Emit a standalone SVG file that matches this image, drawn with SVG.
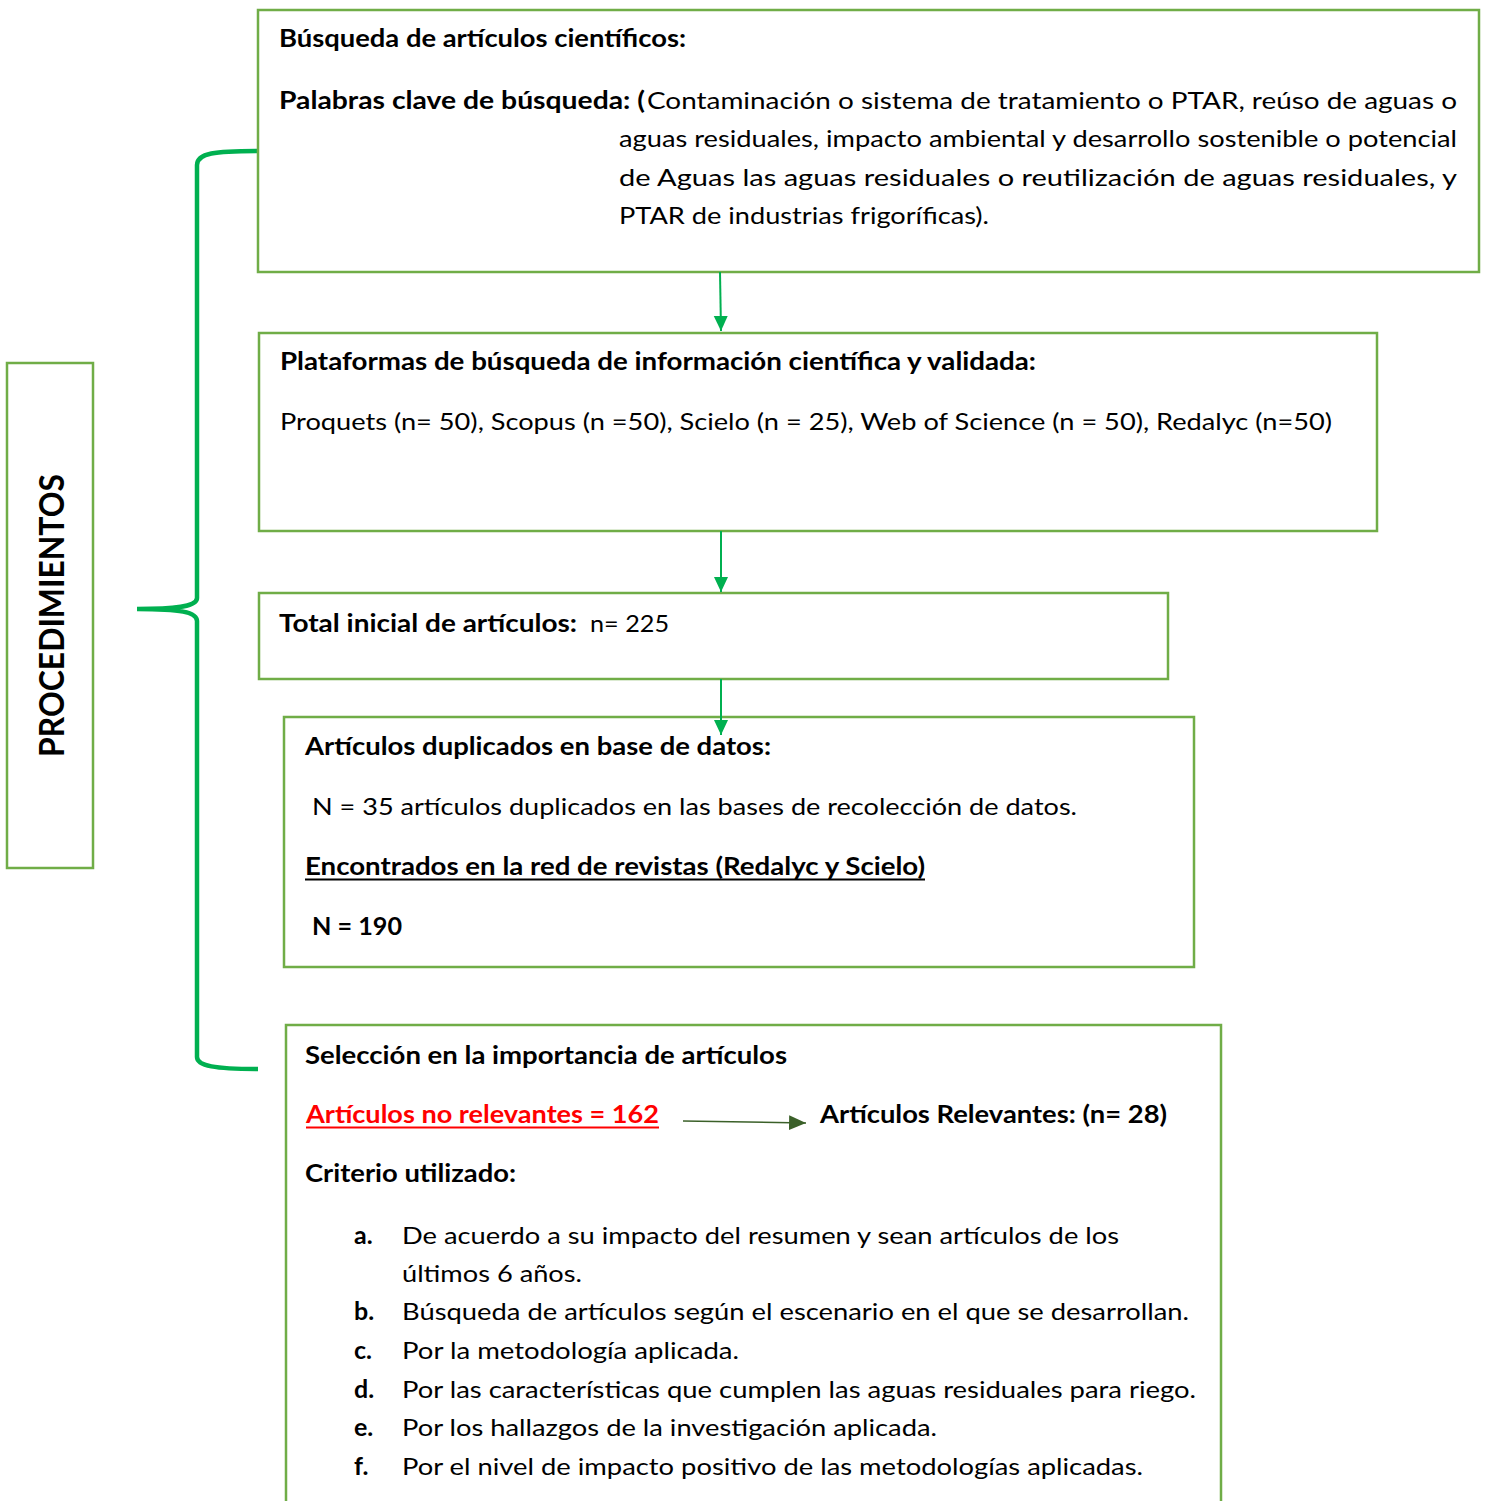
<svg xmlns="http://www.w3.org/2000/svg" width="1488" height="1501" viewBox="0 0 1488 1501">
<style>
.box{fill:#fff;stroke:#70AD47;stroke-width:2.5}
.t{font-family:Lato,"Open Sans","Liberation Sans",sans-serif;font-size:24px;fill:#000}
.b{font-weight:bold}
.red{fill:#FF0000}
.lbl{font-size:25px}
.conn{stroke:#00B050;stroke-width:2;fill:none}
</style>
<defs>
<marker id="ag" markerUnits="userSpaceOnUse" markerWidth="16" markerHeight="16" refX="15" refY="7" orient="auto" viewBox="0 0 16 14">
<path d="M0,0 L15,7 L0,14 Z" fill="#00B050"/>
</marker>
<marker id="ad" markerUnits="userSpaceOnUse" markerWidth="18" markerHeight="16" refX="16" refY="7" orient="auto" viewBox="0 0 17 14">
<path d="M0,0 L16,7 L0,14 Z" fill="#3B6029"/>
</marker>
</defs>

<g id="brace">
<path d="M258,151 C215,151 197,153 197,165 L197,598 C197,606 180,609 137,609 C180,609 197,612 197,621 L197,1057 C197,1066 215,1069 258,1069" fill="none" stroke="#00B050" stroke-width="4.5"/>
</g>

<g id="node-procedimientos">
<rect class="box" x="7" y="363" width="86" height="505"/>
<text class="t b" x="0" y="0" style="font-size:35px" transform="translate(64,757) rotate(-90)" textLength="283" lengthAdjust="spacingAndGlyphs">PROCEDIMIENTOS</text>
</g>

<g id="node-busqueda">
<rect class="box" x="258" y="10" width="1221" height="262"/>
<text class="t b" x="279" y="47" textLength="407" lengthAdjust="spacingAndGlyphs">Búsqueda de artículos científicos:</text>
<text class="t b" x="279" y="109" textLength="366" lengthAdjust="spacingAndGlyphs">Palabras clave de búsqueda: (</text>
<text class="t" x="647" y="109" textLength="810" lengthAdjust="spacingAndGlyphs">Contaminación o sistema de tratamiento o PTAR, reúso de aguas o</text>
<text class="t" x="619" y="147" textLength="838" lengthAdjust="spacingAndGlyphs">aguas residuales, impacto ambiental y desarrollo sostenible o potencial</text>
<text class="t" x="619" y="186" textLength="838" lengthAdjust="spacingAndGlyphs">de Aguas las aguas residuales o reutilización de aguas residuales, y</text>
<text class="t" x="619" y="224" textLength="370" lengthAdjust="spacingAndGlyphs">PTAR de industrias frigoríficas).</text>
</g>

<g id="node-plataformas">
<rect class="box" x="259" y="333" width="1118" height="198"/>
<text class="t b" x="280" y="370" textLength="756" lengthAdjust="spacingAndGlyphs">Plataformas de búsqueda de información científica y validada:</text>
<text class="t" x="280" y="430" textLength="1052" lengthAdjust="spacingAndGlyphs">Proquets (n= 50), Scopus (n =50), Scielo (n = 25), Web of Science (n = 50), Redalyc (n=50)</text>
</g>

<g id="node-total">
<rect class="box" x="259" y="593" width="909" height="86"/>
<text class="t b" x="279" y="632" textLength="298" lengthAdjust="spacingAndGlyphs">Total inicial de artículos:</text>
<text class="t" x="590" y="632" textLength="79" lengthAdjust="spacingAndGlyphs">n= 225</text>
</g>

<g id="node-duplicados">
<rect class="box" x="284" y="717" width="910" height="250"/>
<text class="t b" x="305" y="755" textLength="466" lengthAdjust="spacingAndGlyphs">Artículos duplicados en base de datos:</text>
<text class="t" x="312" y="815" textLength="765" lengthAdjust="spacingAndGlyphs">N = 35 artículos duplicados en las bases de recolección de datos.</text>
<text class="t b" x="305" y="875" textLength="620" lengthAdjust="spacingAndGlyphs">Encontrados en la red de revistas (Redalyc y Scielo)</text>
<line x1="305" y1="879.5" x2="925" y2="879.5" stroke="#000" stroke-width="2"/>
<text class="t b" x="312" y="935" textLength="90" lengthAdjust="spacingAndGlyphs">N = 190</text>
</g>

<g id="node-seleccion">
<rect class="box" x="286" y="1025" width="935" height="490"/>
<text class="t b" x="305" y="1064" textLength="482" lengthAdjust="spacingAndGlyphs">Selección en la importancia de artículos</text>
<text class="t b red" x="306" y="1123" textLength="353" lengthAdjust="spacingAndGlyphs">Artículos no relevantes = 162</text>
<line x1="306" y1="1127.5" x2="659" y2="1127.5" stroke="#FF0000" stroke-width="2"/>
<text class="t b" x="820" y="1123" textLength="347" lengthAdjust="spacingAndGlyphs">Artículos Relevantes: (n= 28)</text>
<text class="t b" x="305" y="1182" textLength="211" lengthAdjust="spacingAndGlyphs">Criterio utilizado:</text>
<text class="t b lbl" x="354" y="1244">a.</text>
<text class="t" x="402" y="1244" textLength="717" lengthAdjust="spacingAndGlyphs">De acuerdo a su impacto del resumen y sean artículos de los</text>
<text class="t" x="402" y="1282" textLength="180" lengthAdjust="spacingAndGlyphs">últimos 6 años.</text>
<text class="t b lbl" x="354" y="1320">b.</text>
<text class="t" x="402" y="1320" textLength="787" lengthAdjust="spacingAndGlyphs">Búsqueda de artículos según el escenario en el que se desarrollan.</text>
<text class="t b lbl" x="354" y="1359">c.</text>
<text class="t" x="402" y="1359" textLength="337" lengthAdjust="spacingAndGlyphs">Por la metodología aplicada.</text>
<text class="t b lbl" x="354" y="1398">d.</text>
<text class="t" x="402" y="1398" textLength="794" lengthAdjust="spacingAndGlyphs">Por las características que cumplen las aguas residuales para riego.</text>
<text class="t b lbl" x="354" y="1436">e.</text>
<text class="t" x="402" y="1436" textLength="535" lengthAdjust="spacingAndGlyphs">Por los hallazgos de la investigación aplicada.</text>
<text class="t b lbl" x="354" y="1475">f.</text>
<text class="t" x="402" y="1475" textLength="741" lengthAdjust="spacingAndGlyphs">Por el nivel de impacto positivo de las metodologías aplicadas.</text>
</g>

<g id="connectors">
<line class="conn" x1="720" y1="272" x2="721" y2="331" marker-end="url(#ag)"/>
<line class="conn" x1="721" y1="531" x2="721" y2="592" marker-end="url(#ag)"/>
<line class="conn" x1="721" y1="679" x2="721" y2="735" marker-end="url(#ag)"/>
<line x1="683" y1="1121" x2="806" y2="1123" stroke="#3B6029" stroke-width="1.6" marker-end="url(#ad)"/>
</g>
</svg>
